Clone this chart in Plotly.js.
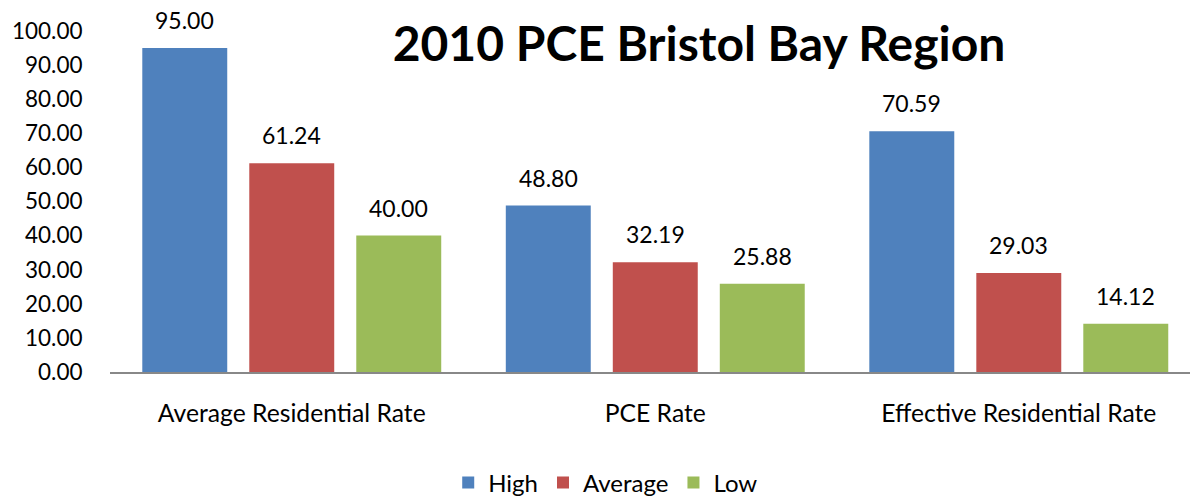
<!DOCTYPE html>
<html><head><meta charset="utf-8">
<script src="https://cdn.plot.ly/plotly-3.0.1.min.js"></script>
<style>html,body{margin:0;padding:0;background:#fff}#c{width:1190px;height:498px}</style>
</head><body><div id="c"></div>
<script>
const categories = ["Average Residential Rate", "PCE Rate", "Effective Residential Rate"];
const seriesNames = ["High", "Average", "Low"];
const high = [95.00, 48.80, 70.59];
const average = [61.24, 32.19, 29.03];
const low = [40.00, 25.88, 14.12];
const colors = ["#4F81BD", "#C0504D", "#9BBB59"];
const yTicks = [0,10,20,30,40,50,60,70,80,90,100];

const font = "Lato, 'Open Sans', sans-serif";
const allSeries = [high, average, low];
const traces = allSeries.map((vals, i) => ({
  type: 'bar', name: seriesNames[i], x: categories, y: vals,
  marker: {color: colors[i]}, hoverinfo: 'none'
}));

const offsets = [-107, 0, 107];
const annotations = [];
allSeries.forEach((vals, i) => vals.forEach((v, j) => annotations.push({
  x: categories[j], y: v, xref: 'x', yref: 'y', text: v.toFixed(2), showarrow: false,
  xshift: offsets[i], yshift: 28, font: {family: font, size: 23, color: '#000'}
})));

const layout = {
  width: 1190, height: 498,
  margin: {l: 110, r: 0, t: 31, b: 126, autoexpand: false},
  paper_bgcolor: '#fff', plot_bgcolor: '#fff',
  font: {family: font, color: '#000'},
  barmode: 'group', bargap: 0.117, bargroupgap: 0.206,
  title: {text: '<b>2010 PCE Bristol Bay Region</b>', font: {family: font, size: 48, color: '#000'},
    x: 699/1190, xanchor: 'center', xref: 'container', y: 1 - 44/498, yanchor: 'middle', yref: 'container'},
  xaxis: {type: 'category', range: [-0.5, 2.471], showline: true, linecolor: '#888', linewidth: 2,
    ticks: 'outside', ticklen: 18, tickcolor: 'rgba(0,0,0,0)', tickfont: {family: font, size: 24.7, color: '#000'},
    showgrid: false, zeroline: false, automargin: false},
  yaxis: {range: [0, 100], tickvals: yTicks, ticktext: yTicks.map(v => v.toFixed(2)),
    showline: false, showgrid: false, zeroline: false, automargin: false,
    ticks: 'outside', ticklen: 22, tickcolor: 'rgba(0,0,0,0)', tickfont: {family: font, size: 22.5, color: '#000'}},
  annotations: annotations,
  showlegend: true,
  legend: {orientation: 'h', x: 0.459, xanchor: 'center', y: -0.325, yanchor: 'middle',
    font: {family: font, size: 24, color: '#000'}, itemwidth: 30, traceorder: 'normal'}
};
Plotly.newPlot('c', traces, layout, {staticPlot: true});
</script></body></html>
